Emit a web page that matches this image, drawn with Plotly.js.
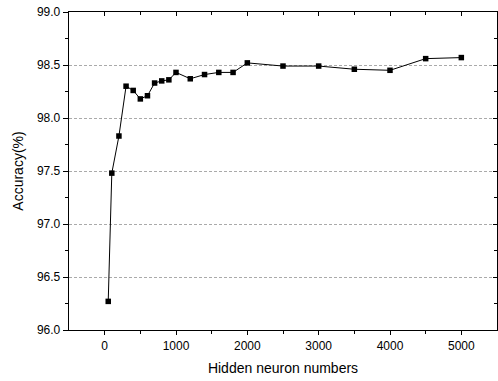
<!DOCTYPE html>
<html>
<head>
<script src="https://cdn.plot.ly/plotly-3.0.1.min.js"></script>
<style>html,body{margin:0;padding:0;background:#fff}#chart{width:498px;height:381px}</style>
</head>
<body>
<div id="chart"></div>
<script>
const neurons = [50, 100, 200, 300, 400, 500, 600, 700, 800, 900, 1000, 1200, 1400, 1600, 1800, 2000, 2500, 3000, 3500, 4000, 4500, 5000];
const accuracy = [96.27, 97.48, 97.83, 98.30, 98.26, 98.18, 98.21, 98.33, 98.35, 98.36, 98.43, 98.37, 98.41, 98.43, 98.43, 98.52, 98.49, 98.49, 98.46, 98.45, 98.56, 98.57];
const xRange = [-500, 5500];
const yRange = [96, 99];

const font = 'Liberation Sans, Arial, sans-serif';
const traces = [
  {x: neurons, y: accuracy, type: 'scatter', mode: 'lines+markers',
   line: {color: '#000', width: 1}, marker: {symbol: 'square', size: 5.5, color: '#000'},
   hoverinfo: 'skip', showlegend: false},
  {x: [xRange[0]], y: [yRange[0]], xaxis: 'x2', yaxis: 'y2', type: 'scatter', mode: 'markers',
   marker: {opacity: 0}, showlegend: false, hoverinfo: 'skip'}
];
const layout = {
  width: 498, height: 381,
  margin: {l: 69, r: 1, t: 12, b: 51},
  paper_bgcolor: '#fff', plot_bgcolor: '#fff',
  font: {family: font, color: '#000'},
  xaxis: {
    range: xRange, tickvals: [0, 1000, 2000, 3000, 4000, 5000],
    ticks: 'outside', ticklen: 4, tickwidth: 1, tickcolor: '#000',
    minor: {tickvals: [500, 1500, 2500, 3500, 4500], ticks: 'outside', ticklen: 3, tickcolor: '#000'},
    showline: true, linecolor: '#000', linewidth: 1.3, showgrid: false, zeroline: false,
    tickfont: {size: 12, family: font},
    title: {text: 'Hidden neuron numbers', font: {size: 14, family: font}, standoff: 11}
  },
  yaxis: {
    range: yRange, tickvals: [96, 96.5, 97, 97.5, 98, 98.5, 99],
    ticktext: ['96.0', '96.5', '97.0', '97.5', '98.0', '98.5', '99.0'],
    ticks: 'outside', ticklen: 5, tickwidth: 1, tickcolor: '#000',
    minor: {tickvals: [96.25, 96.75, 97.25, 97.75, 98.25, 98.75], ticks: 'outside', ticklen: 3, tickcolor: '#000'},
    showline: true, linecolor: '#000', linewidth: 1.3,
    showgrid: true, gridcolor: '#aaaaaa', griddash: '3px,2px', gridwidth: 1, zeroline: false,
    tickfont: {size: 12, family: font},
    title: {text: 'Accuracy(%)', font: {size: 14, family: font}, standoff: 10}
  },
  xaxis2: {
    overlaying: 'x', side: 'top', range: xRange, tickvals: [0, 1000, 2000, 3000, 4000, 5000],
    ticks: 'inside', ticklen: 4, tickcolor: '#000',
    minor: {tickvals: [500, 1500, 2500, 3500, 4500], ticks: 'inside', ticklen: 3, tickcolor: '#000'},
    showticklabels: false, showline: true, linecolor: '#000', linewidth: 1.3, showgrid: false, zeroline: false
  },
  yaxis2: {
    overlaying: 'y', side: 'right', range: yRange, tickvals: [96, 96.5, 97, 97.5, 98, 98.5, 99],
    ticks: 'inside', ticklen: 4, tickcolor: '#000',
    minor: {tickvals: [96.25, 96.75, 97.25, 97.75, 98.25, 98.75], ticks: 'inside', ticklen: 3, tickcolor: '#000'},
    showticklabels: false, showline: true, linecolor: '#000', linewidth: 1.3, showgrid: false, zeroline: false
  }
};
Plotly.newPlot('chart', traces, layout, {staticPlot: true, displayModeBar: false});
</script>
</body>
</html>
